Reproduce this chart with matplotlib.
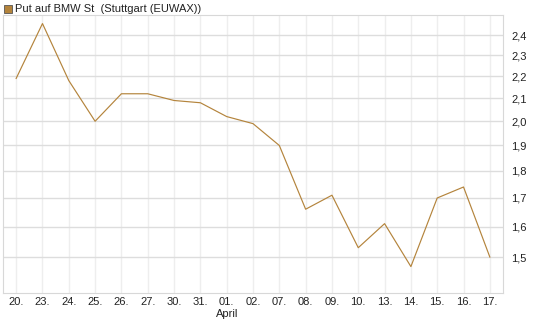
import numpy as np
import matplotlib.pyplot as plt
from matplotlib.ticker import FixedLocator, FuncFormatter, NullLocator
from matplotlib.patches import Rectangle

plt.rcParams['font.family'] = ['Liberation Sans', 'DejaVu Sans']

days = ['20.', '23.', '24.', '25.', '26.', '27.', '30.', '31.', '01.', '02.',
        '07.', '08.', '09.', '10.', '13.', '14.', '15.', '16.', '17.']
price = [2.19, 2.46, 2.18, 2.00, 2.12, 2.12, 2.09, 2.08, 2.02, 1.99,
         1.90, 1.66, 1.71, 1.53, 1.61, 1.47, 1.70, 1.74, 1.50]
yticks = [1.5, 1.6, 1.7, 1.8, 1.9, 2.0, 2.1, 2.2, 2.3, 2.4]
title = 'Put auf BMW St  (Stuttgart (EUWAX))'
col = '#b4843c'

fig = plt.figure(figsize=(5.45, 3.27), dpi=100)
ax = fig.add_axes([3/545, 1 - 293/327, 500/545, 278/327])

x = np.arange(len(days))
ax.plot(x, price, color=col, lw=0.85, zorder=3)

ax.set_yscale('log')
ax.set_ylim(1.39, 2.505)
ax.set_xlim(-0.5, len(days) - 0.5)
ax.yaxis.set_major_locator(FixedLocator(yticks))
ax.yaxis.set_minor_locator(NullLocator())
ax.yaxis.set_major_formatter(FuncFormatter(lambda v, p: f'{v:.1f}'.replace('.', ',')))
ax.set_xticks(x)
ax.set_xticklabels(days)

ax.yaxis.tick_right()
ax.tick_params(axis='both', length=0, labelsize=8, colors='#222222')
ax.tick_params(axis='y', pad=6)
ax.tick_params(axis='x', pad=3)

ax.grid(axis='y', color='#dddddd', lw=1.0)
ax.grid(axis='x', color='#eeeeee', lw=1.0)
ax.set_axisbelow(True)
for s in ax.spines.values():
    s.set_color('#d8d8d8')

# month label under "01."
ax.text(8, -0.058, 'April', transform=ax.get_xaxis_transform(), ha='center', va='top',
        fontsize=8, color='#222222')

# legend-ish title
fig.patches.append(Rectangle((4/545, 1 - 13/327), 8/545, 8/327, transform=fig.transFigure,
                             facecolor=col, edgecolor='#555555', lw=0.6))
fig.text(15/545, 1 - 9/327, title, fontsize=8, va='center', ha='left', color='#222222')

plt.savefig('out.png', dpi=100)
